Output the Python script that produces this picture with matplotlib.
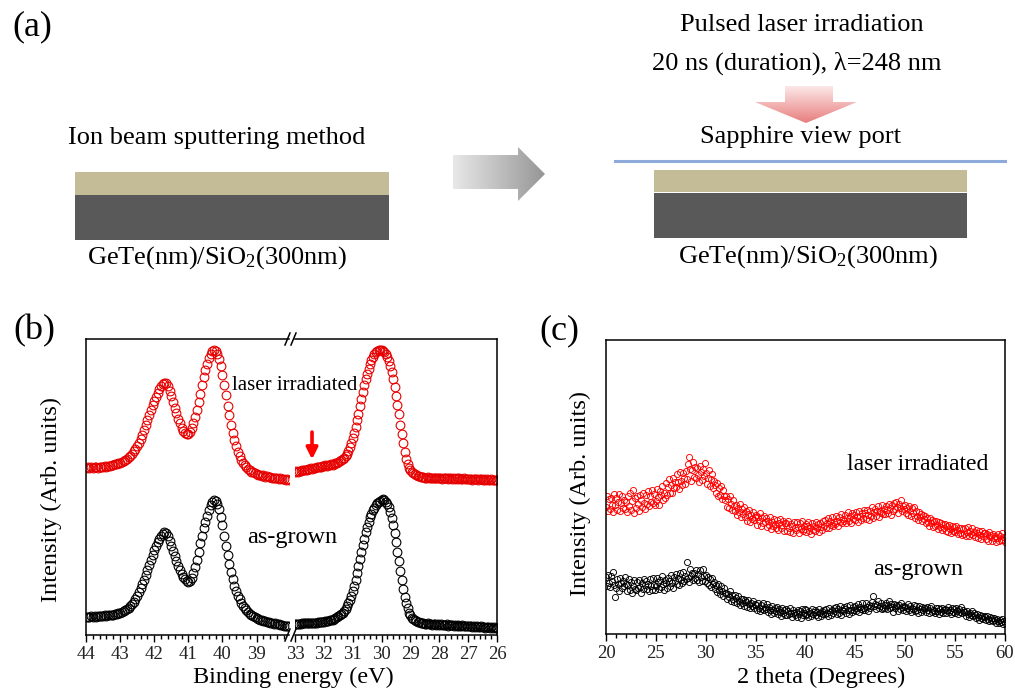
import numpy as np
import matplotlib.pyplot as plt
from matplotlib.patches import Rectangle, Polygon
from matplotlib.ticker import MultipleLocator

plt.rcParams['font.family'] = ['Liberation Serif', 'DejaVu Serif']
plt.rcParams['mathtext.fontset'] = 'custom'
plt.rcParams['mathtext.rm'] = 'Liberation Serif'
plt.rcParams['mathtext.it'] = 'Liberation Serif:italic'

W, H = 1015, 691

# ---- (b) XPS, binding energy grid: 0.05 eV steps going down ----
be_left_start, be_right_start, be_step = 44.0, 33.0, 0.05

xps_left_red = [
    56.4, 56.6, 56.3, 56.6, 56.4, 56.7, 56.6, 56.5, 56.8, 56.7,   # 44.0
    56.8, 57.0, 56.9, 57.2, 57.1, 57.4, 57.5, 57.7, 57.8, 58.0,   # 43.5
    58.2, 58.5, 58.8, 59.1, 59.5, 60.0, 60.6, 61.2, 62.0, 62.9,   # 43.0
    63.9, 65.0, 66.3, 67.7, 69.2, 70.8, 72.5, 74.3, 76.0, 77.6,   # 42.5
    79.1, 80.5, 81.8, 83.0, 84.1, 84.9, 85.3, 85.0, 84.0, 82.5,   # 42.0
    80.7, 78.8, 76.8, 74.9, 73.1, 71.5, 70.1, 69.0, 68.3, 67.9,   # 41.5
    68.0, 68.6, 69.8, 71.5, 73.6, 76.0, 78.7, 81.5, 84.3, 87.0,   # 41.0
    89.5, 91.7, 93.5, 94.9, 95.8, 96.2, 96.0, 95.0, 93.2, 90.8,   # 40.5
    87.8, 84.5, 81.0, 77.5, 74.2, 71.1, 68.3, 65.8, 63.7, 61.9,   # 40.0
    60.4, 59.2, 58.2, 57.4, 56.7, 56.1, 55.6, 55.2, 54.9, 54.6,   # 39.5
    54.4, 54.1, 54.2, 53.8, 53.9, 53.5, 53.6, 53.3, 53.4, 53.1,   # 39.0
    53.2, 52.9, 53.0, 52.7, 52.9, 52.6, 52.7, 52.4, 52.6, 52.4,   # 38.5
]
xps_left_black = [
    6.1, 6.2, 6.0, 6.3, 6.2, 6.4, 6.2, 6.5, 6.3, 6.5,             # 44.0
    6.5, 6.7, 6.5, 6.8, 6.7, 6.8, 6.9, 7.0, 7.1, 7.3,             # 43.5
    7.5, 7.7, 8.0, 8.3, 8.7, 9.2, 9.8, 10.5, 11.3, 12.2,          # 43.0
    13.3, 14.5, 15.8, 17.2, 18.7, 20.3, 21.9, 23.6, 25.3, 27.0,   # 42.5
    28.6, 30.1, 31.4, 32.6, 33.5, 34.2, 34.7, 34.6, 33.3, 31.6,   # 42.0
    30.0, 28.3, 26.6, 24.9, 23.4, 22.0, 20.7, 19.7, 18.9, 18.3,   # 41.5
    18.0, 18.3, 19.3, 21.0, 23.1, 25.5, 28.2, 31.0, 33.6, 36.0,   # 41.0
    38.3, 40.3, 42.3, 43.8, 44.8, 45.5, 45.3, 44.3, 42.5, 40.0,   # 40.5
    37.0, 33.6, 30.2, 27.0, 24.0, 21.3, 18.9, 16.7, 14.9, 13.3,   # 40.0
    12.0, 10.9, 9.9, 9.1, 8.4, 7.8, 7.2, 6.7, 6.3, 6.0,           # 39.5
    5.7, 5.5, 5.1, 5.1, 4.7, 4.7, 4.4, 4.4, 4.1, 4.2,             # 39.0
    3.8, 3.9, 3.6, 3.7, 3.4, 3.5, 3.1, 3.2, 2.9, 3.0,             # 38.5
]
xps_right_red = [
    55.1, 55.3, 55.2, 55.5, 55.4, 55.7, 55.6, 55.9, 55.8, 56.1,   # 33.0
    56.0, 56.3, 56.2, 56.5, 56.4, 56.7, 56.6, 56.9, 56.8, 57.1,   # 32.5
    57.0, 57.3, 57.2, 57.5, 57.4, 57.7, 57.6, 57.9, 58.0, 58.2,   # 32.0
    58.4, 58.7, 59.0, 59.4, 59.9, 60.5, 61.3, 62.3, 63.5, 64.9,   # 31.5
    66.5, 68.3, 70.3, 72.5, 74.8, 77.2, 79.6, 82.0, 84.3, 86.4,   # 31.0
    88.3, 90.0, 91.5, 92.8, 93.9, 94.8, 95.5, 95.9, 96.2, 96.3,   # 30.5
    96.3, 96.1, 95.7, 95.0, 94.0, 92.7, 91.0, 88.9, 86.5, 83.8,   # 30.0
    80.9, 77.8, 74.5, 71.1, 67.8, 64.7, 61.9, 59.6, 57.8, 56.5,   # 29.5
    55.6, 55.0, 54.6, 54.3, 54.0, 53.8, 53.6, 53.5, 53.4, 53.3,   # 29.0
    53.2, 53.0, 53.3, 53.1, 53.2, 52.9, 53.1, 53.0, 53.2, 52.9,   # 28.5
    53.1, 53.0, 52.8, 53.1, 52.9, 53.0, 52.8, 53.0, 52.9, 52.7,   # 28.0
    53.0, 52.8, 52.9, 52.7, 52.9, 52.8, 52.6, 52.9, 52.7, 52.8,   # 27.5
    52.6, 52.8, 52.7, 52.5, 52.8, 52.6, 52.7, 52.5, 52.7, 52.6,   # 27.0
    52.5, 52.7, 52.4, 52.6, 52.5, 52.3, 52.6, 52.4, 52.5, 52.3,   # 26.5
    52.4,                                                         # 26.0
]
xps_right_black = [
    3.7, 3.7, 3.8, 3.8, 3.8, 3.9, 3.9, 3.9, 4.0, 4.0,             # 33.0
    4.0, 4.1, 4.1, 4.1, 4.2, 4.2, 4.3, 4.3, 4.4, 4.4,             # 32.5
    4.5, 4.6, 4.7, 4.8, 4.9, 5.0, 5.2, 5.4, 5.7, 6.0,             # 32.0
    6.3, 6.7, 7.1, 7.6, 8.2, 8.9, 9.7, 10.7, 11.9, 13.3,          # 31.5
    14.9, 16.7, 18.7, 20.9, 23.2, 25.6, 28.0, 30.4, 32.6, 34.7,   # 31.0
    36.5, 38.2, 39.7, 41.0, 42.1, 43.0, 43.8, 44.5, 45.0, 45.4,   # 30.5
    45.7, 45.8, 45.6, 45.1, 44.3, 43.1, 41.5, 39.5, 37.1, 34.4,   # 30.0
    31.4, 28.2, 24.9, 21.6, 18.5, 15.6, 13.0, 10.8, 9.0, 7.6,     # 29.5
    6.6, 5.9, 5.4, 5.0, 4.7, 4.5, 4.3, 4.1, 4.0, 3.9,             # 29.0
    3.8, 3.7, 3.9, 3.6, 3.8, 3.5, 3.7, 3.6, 3.4, 3.7,             # 28.5
    3.5, 3.6, 3.3, 3.5, 3.4, 3.6, 3.2, 3.4, 3.3, 3.5,             # 28.0
    3.2, 3.4, 3.1, 3.3, 3.2, 3.0, 3.3, 3.1, 3.2, 2.9,             # 27.5
    3.1, 2.9, 3.0, 2.8, 3.0, 2.7, 2.9, 2.8, 2.6, 2.9,             # 27.0
    2.7, 2.8, 2.5, 2.7, 2.6, 2.4, 2.7, 2.5, 2.6, 2.4,             # 26.5
    2.5,                                                          # 26.0
]
arrow_be = 32.41
arrow_from, arrow_to = 69.5, 58.4

# ---- (c) XRD, 2 theta grid: 0.1 degree steps from 20 ----
tt_start, tt_step = 20.0, 0.1

xrd_red = [
    43.2, 47.1, 41.9, 45.8, 42.4, 46.3, 44.0, 41.6, 47.5, 43.8,   # 20
    46.2, 42.1, 45.0, 47.6, 41.8, 44.5, 46.9, 43.0, 45.7, 42.6,   # 21
    44.9, 41.5, 46.8, 43.4, 47.9, 42.2, 45.3, 49.0, 41.2, 46.4,   # 22
    42.8, 46.9, 44.3, 41.9, 47.2, 45.6, 43.1, 48.0, 44.6, 42.5,   # 23
    47.3, 44.2, 48.5, 43.6, 46.9, 45.0, 49.1, 44.4, 47.7, 43.9,   # 24
    45.1, 49.3, 46.6, 44.0, 48.8, 47.2, 50.4, 45.7, 48.1, 46.3,   # 25
    51.2, 47.4, 49.9, 52.6, 48.1, 50.7, 47.8, 53.2, 49.6, 51.8,   # 26
    50.1, 54.3, 51.6, 49.4, 55.0, 52.2, 50.8, 54.8, 53.1, 51.0,   # 27
    55.4, 52.6, 57.9, 60.2, 56.2, 51.9, 55.7, 58.6, 53.3, 56.8,   # 28
    52.9, 56.4, 54.0, 51.7, 57.2, 55.1, 52.4, 56.0, 53.6, 58.1,   # 29
    54.7, 50.9, 53.2, 55.8, 50.2, 52.6, 54.3, 49.6, 52.0, 50.8,   # 30
    48.1, 51.3, 46.9, 49.6, 47.4, 50.2, 45.8, 48.9, 47.0, 45.5,   # 31
    46.9, 43.2, 45.8, 42.7, 47.1, 44.3, 42.1, 45.6, 43.5, 41.9,   # 32
    43.8, 40.6, 42.9, 41.4, 44.2, 39.8, 42.5, 40.9, 43.1, 39.9,   # 33
    41.7, 38.6, 40.9, 42.2, 38.1, 40.4, 39.0, 41.6, 38.8, 39.7,   # 34
    40.6, 37.2, 39.8, 38.5, 41.0, 36.9, 39.4, 37.8, 40.1, 38.0,   # 35
    39.4, 36.3, 38.6, 37.1, 39.9, 35.8, 38.2, 36.6, 39.0, 37.5,   # 36
    36.2, 38.9, 35.4, 37.7, 39.2, 35.9, 37.0, 38.4, 35.1, 37.6,   # 37
    37.9, 35.2, 38.6, 36.1, 34.7, 37.4, 36.8, 34.5, 38.2, 36.0,   # 38
    35.4, 38.1, 36.5, 34.3, 37.6, 35.8, 38.4, 34.9, 36.9, 35.6,   # 39
    37.3, 34.6, 36.8, 38.0, 35.1, 36.4, 33.9, 37.7, 35.5, 36.9,   # 40
    35.2, 38.1, 36.0, 37.4, 34.8, 37.9, 36.5, 35.3, 38.3, 36.7,   # 41
    38.9, 36.2, 37.8, 39.6, 35.9, 38.4, 37.0, 39.8, 36.6, 38.1,   # 42
    37.4, 40.1, 38.6, 36.9, 39.8, 38.0, 40.7, 37.6, 39.2, 38.5,   # 43
    40.6, 37.9, 39.5, 41.4, 38.3, 40.2, 37.7, 41.0, 39.1, 40.5,   # 44
    38.8, 41.6, 39.9, 38.2, 42.0, 40.1, 38.9, 41.3, 39.5, 42.2,   # 45
    41.0, 39.2, 42.3, 40.5, 38.9, 41.8, 40.0, 43.1, 39.6, 41.4,   # 46
    42.6, 40.1, 41.7, 43.4, 39.8, 42.0, 41.2, 43.8, 40.7, 42.5,   # 47
    40.9, 43.6, 42.1, 41.0, 44.3, 42.7, 40.6, 43.9, 41.8, 44.6,   # 48
    42.4, 45.0, 43.1, 41.3, 44.2, 42.8, 45.6, 41.9, 43.7, 42.6,   # 49
    44.0, 41.2, 42.9, 40.6, 43.5, 41.8, 40.3, 42.7, 41.1, 43.2,   # 50
    39.6, 41.9, 40.2, 38.8, 41.4, 39.7, 40.8, 38.4, 40.5, 39.1,   # 51
    40.1, 37.6, 39.3, 38.0, 36.9, 39.5, 37.7, 38.9, 36.5, 38.4,   # 52
    36.8, 38.5, 37.0, 35.6, 38.2, 36.3, 37.9, 35.5, 37.4, 36.1,   # 53
    37.5, 35.2, 36.6, 34.8, 37.2, 35.7, 34.4, 36.9, 35.0, 36.3,   # 54
    34.6, 36.8, 35.3, 33.9, 36.2, 34.5, 35.9, 33.6, 35.6, 34.1,   # 55
    35.9, 33.5, 34.8, 36.3, 33.2, 35.1, 34.0, 36.1, 33.7, 34.6,   # 56
    33.1, 35.4, 34.2, 32.6, 35.0, 33.8, 32.4, 34.9, 33.3, 34.5,   # 57
    34.2, 32.3, 33.9, 31.8, 34.6, 32.9, 33.6, 31.5, 34.0, 32.7,   # 58
    33.5, 31.2, 32.8, 34.1, 31.6, 33.2, 32.0, 34.3, 31.9, 32.9,   # 59
    31.4,                                                         # 60
]
xrd_black = [
    19.4, 16.2, 20.1, 17.5, 15.9, 19.8, 18.0, 21.0, 16.6, 12.5,   # 20
    15.8, 18.6, 16.9, 14.7, 19.2, 17.3, 15.5, 18.1, 16.4, 19.5,   # 21
    17.0, 14.6, 16.8, 18.7, 15.1, 17.6, 13.9, 16.3, 18.2, 15.4,   # 22
    14.9, 17.8, 15.7, 18.3, 16.0, 13.8, 17.4, 15.2, 18.6, 16.5,   # 23
    18.1, 15.4, 17.0, 14.6, 18.7, 16.3, 15.0, 19.0, 16.8, 14.9,   # 24
    16.2, 19.1, 17.6, 15.3, 18.4, 16.0, 19.6, 17.1, 14.8, 18.3,   # 25
    17.5, 15.6, 19.2, 17.9, 16.4, 20.0, 17.2, 15.8, 19.4, 18.1,   # 26
    20.3, 17.1, 18.9, 16.7, 20.8, 18.4, 17.3, 21.2, 18.0, 19.6,   # 27
    18.6, 24.5, 19.1, 17.8, 22.0, 19.7, 20.6, 18.3, 20.9, 19.2,   # 28
    21.6, 18.4, 20.5, 17.6, 21.9, 19.3, 18.0, 22.1, 19.8, 17.9,   # 29
    20.2, 17.4, 19.5, 16.6, 18.8, 15.9, 19.0, 16.9, 17.7, 15.2,   # 30
    16.8, 14.3, 17.1, 15.0, 13.6, 16.2, 14.7, 12.9, 15.6, 13.8,   # 31
    14.1, 11.9, 13.7, 12.5, 14.6, 11.3, 13.2, 12.0, 10.9, 13.4,   # 32
    12.3, 10.4, 12.9, 11.1, 9.8, 12.0, 10.6, 11.8, 9.6, 11.4,     # 33
    10.9, 9.2, 11.5, 10.1, 8.7, 10.6, 9.5, 11.2, 8.9, 10.3,       # 34
    9.8, 8.1, 10.4, 9.0, 7.7, 9.9, 8.5, 10.6, 8.0, 9.3,           # 35
    8.4, 10.1, 7.6, 9.2, 8.0, 6.9, 9.6, 8.3, 7.2, 9.0,            # 36
    7.8, 9.3, 6.9, 8.6, 7.4, 6.2, 8.9, 7.1, 8.2, 6.6,             # 37
    8.5, 6.4, 7.9, 6.8, 8.8, 7.2, 5.9, 8.1, 7.0, 6.5,             # 38
    7.4, 5.8, 8.2, 6.9, 7.7, 5.6, 8.4, 6.6, 7.1, 8.6,             # 39
    6.3, 8.0, 6.9, 5.7, 7.9, 7.2, 6.1, 8.5, 6.7, 7.4,             # 40
    8.1, 6.5, 7.6, 5.9, 8.6, 7.0, 6.2, 7.8, 6.8, 8.3,             # 41
    6.9, 8.4, 7.3, 6.0, 8.9, 7.6, 6.4, 8.2, 7.1, 9.0,             # 42
    7.7, 9.1, 6.8, 8.5, 7.2, 9.4, 6.6, 8.0, 7.9, 9.2,             # 43
    8.6, 7.1, 9.5, 8.0, 6.9, 9.8, 8.3, 7.5, 9.1, 8.2,             # 44
    9.6, 7.8, 8.9, 10.2, 7.6, 9.3, 8.4, 10.5, 8.1, 9.0,           # 45
    8.3, 10.4, 9.1, 7.9, 10.0, 8.7, 9.6, 11.0, 12.9, 9.4,         # 46
    10.1, 8.6, 9.8, 11.3, 8.9, 9.5, 10.6, 8.4, 9.0, 9.9,          # 47
    9.0, 10.7, 8.5, 9.9, 11.1, 8.8, 10.3, 9.2, 7.6, 10.1,         # 48
    8.7, 10.0, 9.4, 7.8, 9.9, 8.5, 10.4, 9.1, 8.0, 9.6,           # 49
    9.2, 7.9, 8.8, 10.1, 8.2, 9.5, 7.6, 9.0, 8.4, 9.8,            # 50
    7.9, 9.4, 8.1, 7.2, 9.6, 8.6, 7.5, 9.1, 8.0, 8.9,             # 51
    8.8, 7.4, 9.2, 8.0, 7.0, 8.7, 9.5, 7.6, 8.3, 7.8,             # 52
    7.3, 8.9, 7.7, 9.0, 6.9, 8.4, 7.5, 8.8, 7.1, 8.2,             # 53
    8.6, 7.0, 8.1, 9.3, 7.4, 8.0, 6.8, 8.9, 7.6, 8.4,             # 54
    7.2, 8.8, 7.9, 6.7, 8.5, 7.6, 9.1, 7.0, 8.2, 7.4,             # 55
    7.6, 6.2, 7.8, 6.9, 5.8, 7.3, 6.5, 7.9, 6.1, 7.0,             # 56
    6.4, 5.3, 6.9, 5.9, 4.9, 6.6, 5.6, 6.2, 5.0, 6.1,             # 57
    5.7, 4.6, 6.0, 5.2, 4.3, 5.8, 4.9, 5.4, 4.4, 5.5,             # 58
    4.9, 3.8, 5.2, 4.5, 3.6, 4.8, 4.1, 5.0, 3.4, 4.3,             # 59
    3.7,                                                          # 60
]

be_left = be_left_start - be_step * np.arange(len(xps_left_red))
be_right = be_right_start - be_step * np.arange(len(xps_right_red))
two_theta = tt_start + tt_step * np.arange(len(xrd_red))

RED = '#e60000'
TAN = '#c4bc96'
DARK = '#595959'


def rect(x0, y0, x1, y1):
    # pixel box (top-left origin) -> figure fraction
    return [x0 / W, 1 - y1 / H, (x1 - x0) / W, (y1 - y0) / H]


def ftext(x, y, s, **kw):
    fig.text(x / W, 1 - y / H, s, ha=kw.pop('ha', 'center'), va=kw.pop('va', 'center'), **kw)


fig = plt.figure(figsize=(W / 100, H / 100), dpi=100)

# ---------------- panel (b) ----------------
axL = fig.add_axes(rect(86, 339, 289, 635))
axR = fig.add_axes(rect(295, 339, 497, 635))
mk = dict(ls='none', marker='o', mfc='none', ms=6.3, mew=0.8)
axL.plot(be_left, xps_left_red, mec=RED, **mk)
axL.plot(be_left, xps_left_black, mec='black', **mk)
axR.plot(be_right, xps_right_red, mec=RED, **mk)
axR.plot(be_right, xps_right_black, mec='black', **mk)
axL.set_xlim(44, 38.05)
axR.set_xlim(33, 26)
axL.set_xticks(range(39, 45))
axR.set_xticks(range(26, 34))
axL.spines['right'].set_visible(False)
axR.spines['left'].set_visible(False)
axR.annotate('', xy=(arrow_be, arrow_to), xytext=(arrow_be, arrow_from),
             arrowprops=dict(arrowstyle='-|>', color='red', lw=2.6, mutation_scale=17))

# ---------------- panel (c) ----------------
axC = fig.add_axes(rect(606, 340, 1005, 634))
mk2 = dict(ls='none', marker='o', mfc='none', ms=4.4, mew=0.65)
axC.plot(two_theta, xrd_red, mec='red', **mk2)
axC.plot(two_theta, xrd_black, mec='black', **mk2)
axC.set_xlim(20, 60)
axC.xaxis.set_major_locator(MultipleLocator(5))
axC.xaxis.set_minor_locator(MultipleLocator(1))

for ax in (axL, axR, axC):
    ax.set_ylim(0, 100)
    ax.set_yticks([])
    if ax is not axC:
        ax.xaxis.set_minor_locator(MultipleLocator(0.2))
    ax.tick_params(axis='x', which='major', direction='out', length=5, width=1,
                   labelsize=13.5, pad=3, labelcolor='#222222')
    ax.tick_params(axis='x', which='minor', direction='out', length=3, width=1)
    for sp in ax.spines.values():
        sp.set_linewidth(1.1)

# ---------------- overlay: panel (a), labels, break marks ----------------
ov = fig.add_axes([0, 0, 1, 1], zorder=5)
ov.patch.set_visible(False)
ov.axis('off')


def grad_poly(verts, c0, c1, vertical):
    poly = Polygon(verts, closed=True, fc='none', ec='none')
    ov.add_patch(poly)
    xs = [v[0] for v in verts]
    ys = [v[1] for v in verts]
    t = np.linspace(0, 1, 256)[:, None]
    cols = (np.array(c0) * (1 - t) + np.array(c1) * t) / 255.0
    img = cols[:, None, :] if vertical else cols[None, :, :]
    im = ov.imshow(img, extent=(min(xs), max(xs), max(ys), min(ys)),
                   aspect='auto', interpolation='bilinear')
    im.set_clip_path(poly)


# left stack
ov.add_patch(Rectangle((75, 172), 314, 23, fc=TAN, ec='none'))
ov.add_patch(Rectangle((75, 195), 314, 45, fc=DARK, ec='none'))
# right stack
ov.add_patch(Rectangle((654, 170), 313, 22, fc=TAN, ec='none'))
ov.add_patch(Rectangle((654, 192.5), 313, 45.5, fc=DARK, ec='none'))
ov.plot([615, 1005], [161, 161], color='#8eaadb', lw=2.2)

# grey process arrow
grad_poly([(453, 155), (518, 155), (518, 147), (545, 174), (518, 201), (518, 189), (453, 189)],
          (232, 232, 232), (150, 150, 150), vertical=False)
# pink laser arrow
grad_poly([(785, 86), (833, 86), (833, 102), (857, 102), (806, 123), (755, 102), (785, 102)],
          (252, 232, 232), (232, 125, 125), vertical=True)

# axis break marks
for yb in (339, 635):
    for xb in (287, 293):
        ov.plot([xb - 2, xb + 3], [yb + 6, yb - 6], color='black', lw=1.1, clip_on=False)

ov.set_xlim(0, W)
ov.set_ylim(H, 0)

# texts
ftext(32, 27, '(a)', fontsize=26)
ftext(34, 331, '(b)', fontsize=26)
ftext(559, 331, '(c)', fontsize=26)

ftext(217, 138, 'Ion beam sputtering method', fontsize=19)
ftext(217, 258, r'GeTe(nm)/SiO$_{\mathrm{2}}$(300nm)', fontsize=19)
ftext(802, 25, 'Pulsed laser irradiation', fontsize=19)
ftext(797, 63, r'20 ns (duration), λ=248 nm', fontsize=19)
ftext(800, 137, 'Sapphire view port', fontsize=19)
ftext(808, 257, r'GeTe(nm)/SiO$_{\mathrm{2}}$(300nm)', fontsize=19)

ftext(295, 385, 'laser irradiated', fontsize=15)
ftext(292, 537, 'as-grown', fontsize=17.5)
ftext(918, 464, 'laser irradiated', fontsize=17)
ftext(918, 570, 'as-grown', fontsize=17.5)

ftext(293, 677, 'Binding energy (eV)', fontsize=17.5)
ftext(821, 677, '2 theta (Degrees)', fontsize=17.5)
ftext(51, 499, 'Intensity (Arb. units)', fontsize=17.5, rotation=90)
ftext(580, 494, 'Intensity (Arb. units)', fontsize=17.5, rotation=90)

fig.savefig('out.png', dpi=100)
